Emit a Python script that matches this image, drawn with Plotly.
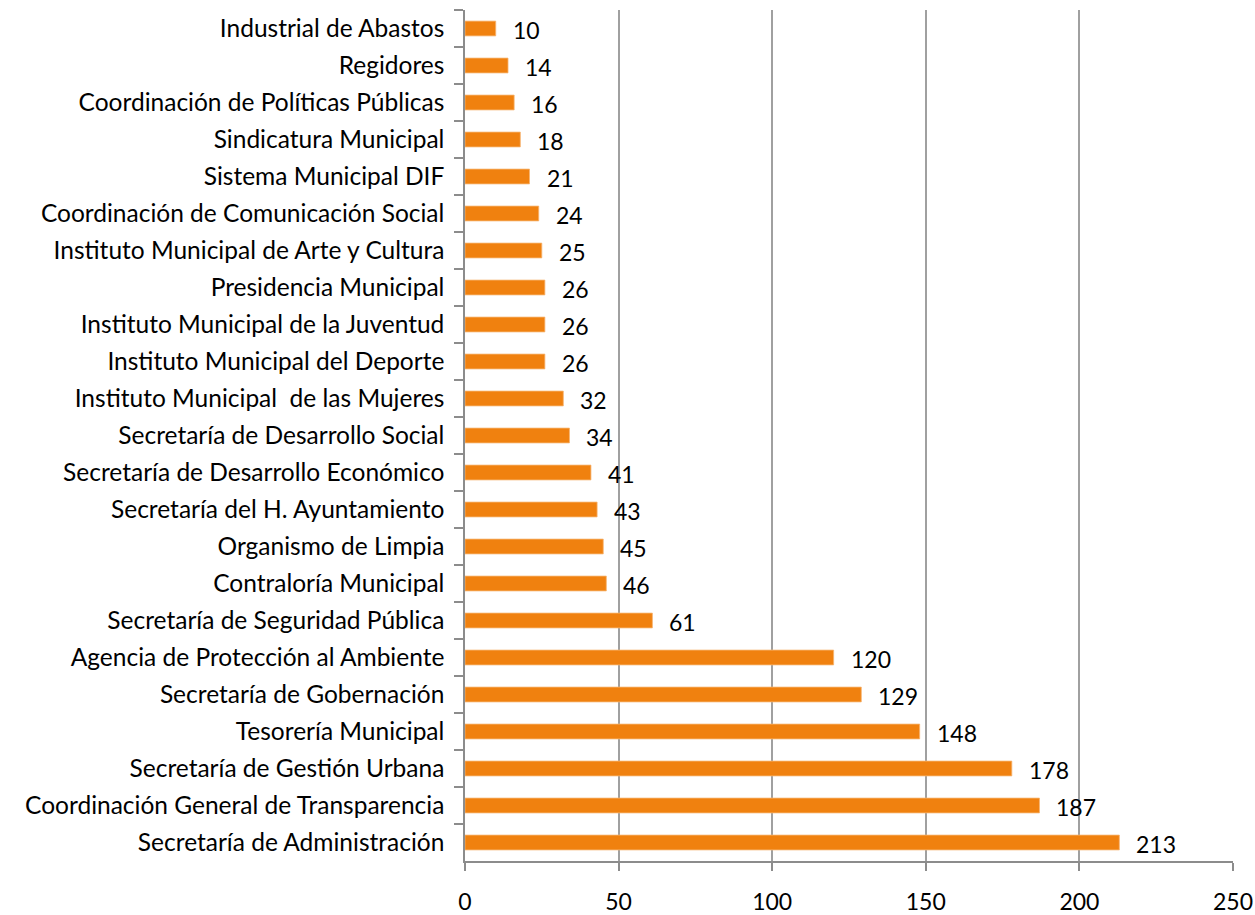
import plotly.graph_objects as go

categories = [
    "Industrial de Abastos",
    "Regidores",
    "Coordinación de Políticas Públicas",
    "Sindicatura Municipal",
    "Sistema Municipal DIF",
    "Coordinación de Comunicación Social",
    "Instituto Municipal de Arte y Cultura",
    "Presidencia Municipal",
    "Instituto Municipal de la Juventud",
    "Instituto Municipal del Deporte",
    "Instituto Municipal  de las Mujeres",
    "Secretaría de Desarrollo Social",
    "Secretaría de Desarrollo Económico",
    "Secretaría del H. Ayuntamiento",
    "Organismo de Limpia",
    "Contraloría Municipal",
    "Secretaría de Seguridad Pública",
    "Agencia de Protección al Ambiente",
    "Secretaría de Gobernación",
    "Tesorería Municipal",
    "Secretaría de Gestión Urbana",
    "Coordinación General de Transparencia",
    "Secretaría de Administración",
]
values = [10, 14, 16, 18, 21, 24, 25, 26, 26, 26, 32, 34, 41, 43, 45, 46, 61,
          120, 129, 148, 178, 187, 213]
x_ticks = [0, 50, 100, 150, 200, 250]

FONT = "Lato"
fig = go.Figure()
fig.add_trace(go.Bar(
    x=values, y=categories, orientation="h",
    marker=dict(color="#F0810F", line=dict(color="#F6B470", width=0.8)),
    width=0.4,
    hoverinfo="skip",
))

for v, c in zip(values, categories):
    fig.add_annotation(x=v, y=c, text=str(v), showarrow=False,
                       xanchor="left", yanchor="middle", xshift=15, yshift=-1,
                       font=dict(family=FONT, size=23, color="#000000"))

fig.update_layout(
    width=1255, height=915,
    margin=dict(l=465, r=22, t=10, b=54, autoexpand=False),
    paper_bgcolor="white", plot_bgcolor="white",
    showlegend=False,
    font=dict(family=FONT, size=24.5, color="#000000"),
    bargap=0.6,
)
fig.update_xaxes(
    range=[0, 250], tickvals=x_ticks, ticktext=[str(t) for t in x_ticks],
    showgrid=True, gridcolor="#A0A0A0", gridwidth=1.5,
    showline=True, linecolor="#8C8C8C", linewidth=1.5,
    ticks="outside", ticklen=8, tickcolor="#8C8C8C", tickwidth=1.5,
    ticklabelstandoff=12, zeroline=False, automargin=False,
    tickfont=dict(family=FONT, size=23, color="#000000"),
    mirror=False, fixedrange=True,
)
fig.update_yaxes(
    categoryorder="array", categoryarray=categories, autorange="reversed",
    showline=True, linecolor="#8C8C8C", linewidth=1.5,
    ticks="outside", tickson="boundaries", ticklen=9, tickcolor="#8C8C8C",
    tickwidth=1.5, ticklabelstandoff=14, showgrid=False, automargin=False,
    tickfont=dict(family=FONT, size=24.5, color="#000000"),
)

fig.write_html(
    "out.html",
    config={"displayModeBar": False},
    post_script="document.body.style.margin='0';document.body.style.overflow='hidden';",
)
